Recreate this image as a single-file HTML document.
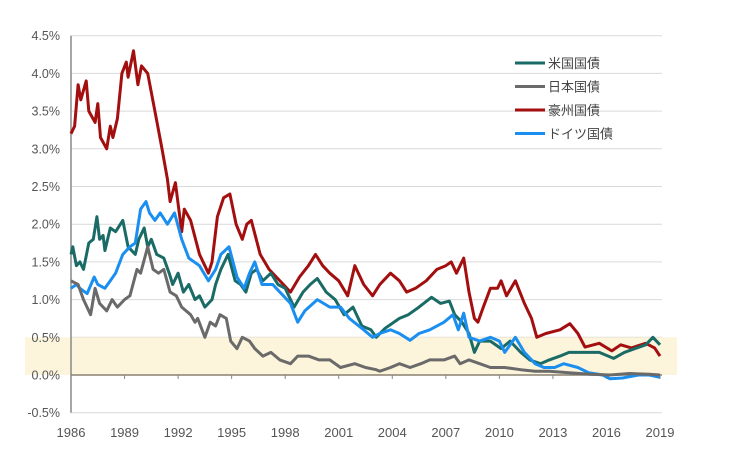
<!DOCTYPE html>
<html><head><meta charset="utf-8">
<style>
html,body{margin:0;padding:0;background:#fff;}
svg{display:block;font-family:"Liberation Sans","Noto Sans CJK JP",sans-serif;}
</style></head>
<body>
<svg id="chart" width="754" height="460" viewBox="0 0 754 460" xmlns="http://www.w3.org/2000/svg">
<g id="grid"></g>
<rect id="band" fill="#fdf2d6" opacity="0.85"></rect>
<g id="axes"></g>
<g id="series"></g>
<g id="legend"></g>
</svg>
<script>
const yTicks = [-0.5,0,0.5,1,1.5,2,2.5,3,3.5,4,4.5];
const xTicks = [1986,1989,1992,1995,1998,2001,2004,2007,2010,2013,2016,2019];
const seriesNames = ["米国国債","日本国債","豪州国債","ドイツ国債"];
const seriesColors = ["#1a6b66","#6a6a6a","#a30f0f","#1b8ff0"];

const usYears = [1986.0,1986.1,1986.3,1986.5,1986.7,1987.0,1987.25,1987.45,1987.6,1987.8,1987.9,1988.2,1988.5,1988.9,1989.2,1989.6,1989.8,1990.1,1990.3,1990.5,1990.8,1991.2,1991.5,1991.7,1992.0,1992.3,1992.6,1992.95,1993.2,1993.5,1993.9,1994.1,1994.4,1994.8,1995.2,1995.5,1995.8,1996.1,1996.4,1996.75,1997.2,1997.6,1998.0,1998.5,1999.0,1999.4,1999.8,2000.3,2000.8,2001.3,2001.8,2002.3,2002.8,2003.1,2003.6,2004.4,2004.9,2005.5,2006.2,2006.7,2007.2,2007.5,2007.9,2008.3,2008.6,2008.9,2009.5,2010.1,2010.6,2011.2,2011.7,2012.3,2012.8,2013.4,2013.9,2014.7,2015.6,2016.4,2017.0,2017.6,2018.2,2018.6,2019.0];
const usValues = [1.6,1.7,1.45,1.5,1.4,1.75,1.8,2.1,1.8,1.85,1.65,1.95,1.9,2.05,1.7,1.6,1.8,1.95,1.7,1.8,1.6,1.55,1.35,1.2,1.35,1.1,1.2,1.0,1.05,0.9,1.0,1.2,1.4,1.6,1.25,1.2,1.1,1.35,1.4,1.25,1.35,1.2,1.15,0.9,1.1,1.2,1.28,1.1,1.0,0.8,0.9,0.65,0.6,0.5,0.62,0.75,0.8,0.9,1.03,0.95,0.98,0.8,0.7,0.55,0.3,0.45,0.45,0.35,0.45,0.3,0.2,0.15,0.2,0.25,0.3,0.3,0.3,0.22,0.3,0.35,0.4,0.5,0.4];

const jpYears = [1986.0,1986.4,1986.7,1987.1,1987.35,1987.6,1988.0,1988.3,1988.6,1989.0,1989.3,1989.7,1989.9,1990.3,1990.6,1990.9,1991.2,1991.55,1991.9,1992.2,1992.7,1992.95,1993.1,1993.5,1993.8,1994.1,1994.35,1994.7,1994.95,1995.3,1995.6,1996.0,1996.3,1996.75,1997.2,1997.7,1998.3,1998.7,1999.3,1999.9,2000.5,2001.1,2001.9,2002.5,2003.1,2003.3,2003.9,2004.4,2005.0,2005.6,2006.1,2006.9,2007.5,2007.8,2008.3,2008.9,2009.5,2010.3,2011.2,2012.0,2012.8,2013.9,2015.1,2016.2,2017.3,2018.4,2019.0];
const jpValues = [1.25,1.2,1.0,0.8,1.15,0.95,0.85,1.0,0.9,1.0,1.05,1.4,1.35,1.7,1.4,1.35,1.4,1.1,1.05,0.9,0.8,0.7,0.75,0.5,0.7,0.65,0.8,0.75,0.45,0.35,0.5,0.45,0.35,0.25,0.3,0.2,0.15,0.25,0.25,0.2,0.2,0.1,0.15,0.1,0.07,0.05,0.1,0.15,0.1,0.15,0.2,0.2,0.25,0.15,0.2,0.15,0.1,0.1,0.07,0.05,0.05,0.03,0.01,0.0,0.02,0.01,0.0];

const auYears = [1986.0,1986.2,1986.4,1986.55,1986.85,1987.0,1987.35,1987.5,1987.65,1988.0,1988.2,1988.35,1988.6,1988.85,1989.1,1989.2,1989.5,1989.75,1989.95,1990.3,1990.7,1991.1,1991.4,1991.55,1991.85,1992.2,1992.35,1992.7,1993.2,1993.7,1993.9,1994.2,1994.55,1994.9,1995.25,1995.6,1995.85,1996.1,1996.6,1997.1,1997.5,1997.9,1998.3,1998.8,1999.3,1999.7,2000.1,2000.5,2001.0,2001.5,2001.9,2002.4,2002.9,2003.3,2003.9,2004.4,2004.8,2005.3,2005.9,2006.5,2007.0,2007.3,2007.6,2008.0,2008.3,2008.6,2008.8,2009.1,2009.5,2009.9,2010.1,2010.4,2010.9,2011.4,2011.8,2012.1,2012.6,2013.4,2013.95,2014.4,2014.8,2015.6,2016.3,2016.8,2017.4,2018.2,2018.7,2019.0];
const auValues = [3.2,3.3,3.85,3.65,3.9,3.5,3.35,3.6,3.15,3.0,3.3,3.15,3.4,4.0,4.15,3.95,4.3,3.85,4.1,4.0,3.5,3.0,2.6,2.3,2.55,1.9,2.2,2.05,1.6,1.35,1.5,2.1,2.35,2.4,2.0,1.8,2.0,2.05,1.6,1.4,1.3,1.2,1.1,1.3,1.45,1.6,1.45,1.35,1.25,1.05,1.45,1.2,1.05,1.2,1.35,1.25,1.1,1.15,1.25,1.4,1.45,1.5,1.35,1.55,1.1,0.75,0.7,0.9,1.15,1.15,1.25,1.05,1.25,0.95,0.75,0.5,0.55,0.6,0.68,0.55,0.37,0.42,0.32,0.4,0.36,0.42,0.36,0.25];

const deYears = [1986.0,1986.3,1986.5,1986.9,1987.3,1987.5,1987.9,1988.2,1988.5,1988.9,1989.3,1989.6,1989.9,1990.2,1990.4,1990.7,1991.0,1991.4,1991.8,1992.2,1992.6,1993.2,1993.7,1994.1,1994.4,1994.85,1995.3,1995.7,1996.0,1996.3,1996.7,1997.3,1997.9,1998.3,1998.7,1999.1,1999.8,2000.5,2001.1,2001.6,2002.4,2002.9,2003.3,2003.9,2004.4,2005.0,2005.5,2006.1,2006.9,2007.4,2007.7,2008.0,2008.3,2008.9,2009.5,2010.0,2010.3,2010.9,2011.4,2012.0,2012.5,2013.1,2013.6,2014.4,2015.0,2015.8,2016.2,2016.9,2017.8,2018.4,2019.0];
const deValues = [1.15,1.2,1.15,1.08,1.3,1.2,1.15,1.25,1.35,1.6,1.7,1.75,2.2,2.3,2.15,2.05,2.15,2.0,2.15,1.8,1.55,1.45,1.25,1.4,1.6,1.7,1.3,1.15,1.35,1.5,1.2,1.2,1.05,0.95,0.7,0.85,1.0,0.9,0.9,0.75,0.6,0.5,0.55,0.6,0.55,0.46,0.55,0.6,0.7,0.8,0.6,0.82,0.5,0.45,0.5,0.45,0.3,0.5,0.3,0.15,0.1,0.1,0.15,0.1,0.03,0.0,-0.05,-0.04,0.0,0.0,-0.03];

const NS = "http://www.w3.org/2000/svg";
const X0 = 71, X1 = 660, YTOP = 35.7, YBOT = 412.7;
function xScale(yr){ return X0 + (yr - 1986) / (2019 - 1986) * (X1 - X0); }
function yScale(v){ return YBOT - (v + 0.5) / 5 * (YBOT - YTOP); }
function mk(tag, attrs, parent){ const e = document.createElementNS(NS, tag); for (const k in attrs) e.setAttribute(k, attrs[k]); parent.appendChild(e); return e; }

const grid = document.getElementById('grid');
const axes = document.getElementById('axes');
yTicks.forEach(t => {
  const y = yScale(t);
  if (t !== 0) {
    const gl = mk('line', {x1: X0, x2: 662, y1: y, y2: y, stroke: '#d9d9d9', 'stroke-width': 1}, grid);
    
    
  }
  const tx = mk('text', {x: 60, y: y + 4.5, 'text-anchor': 'end', 'font-size': 12.5, fill: '#555'}, axes);
  tx.textContent = t.toFixed(1) + '%';
  
  
});

const band = document.getElementById('band');
band.setAttribute('x', 25);
band.setAttribute('width', 652);
band.setAttribute('y', yScale(0.5));
band.setAttribute('height', yScale(0) - yScale(0.5));

const yAxis = mk('line', {x1: X0, x2: X0, y1: YTOP, y2: YBOT, stroke: '#888', 'stroke-width': 1.5}, axes);


const zeroLine = mk('line', {x1: X0, x2: 662, y1: yScale(0), y2: yScale(0), stroke: '#8a8070', 'stroke-width': 1.5}, axes);



xTicks.forEach(t => {
  const x = xScale(t);
  const tk = mk('line', {x1: x, x2: x, y1: yScale(0), y2: yScale(0) + 4, stroke: '#888', 'stroke-width': 1}, axes);
  
  
  const tx = mk('text', {x: x, y: 437, 'text-anchor': 'middle', 'font-size': 13, fill: '#555'}, axes);
  tx.textContent = t;
  
  
});

const seriesG = document.getElementById('series');
const allYears = [usYears, jpYears, auYears, deYears];
const allValues = [usValues, jpValues, auValues, deValues];
const drawOrder = [2, 0, 3, 1];
const seriesKeys = ['us', 'japan', 'australia', 'germany'];
drawOrder.forEach(i => {
  const d = allYears[i].map((yr, j) => (j ? 'L' : 'M') + xScale(yr).toFixed(1) + ' ' + yScale(allValues[i][j]).toFixed(1)).join(' ');
  const p = mk('path', {d: d, fill: 'none', stroke: seriesColors[i], 'stroke-width': 3, 'stroke-linejoin': 'round'}, seriesG);
  
  
});

const leg = document.getElementById('legend');
seriesNames.forEach((n, i) => {
  const y = 63 + i * 23.5;
  const g = mk('g', {}, leg);
  
  
  mk('line', {x1: 515, x2: 545, y1: y, y2: y, stroke: seriesColors[i], 'stroke-width': 3}, g);
  const t = mk('text', {x: 548, y: y + 5, 'font-size': 13, fill: '#444'}, g);
  t.textContent = n;
});
</script>
</body></html>
